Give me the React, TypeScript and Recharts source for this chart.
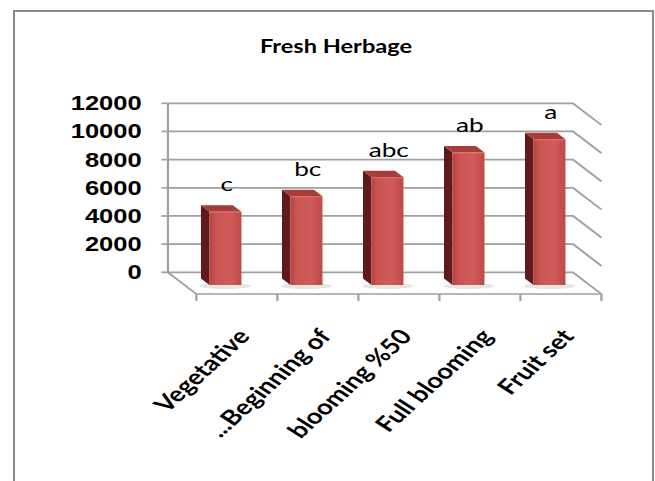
import { BarChart, Bar, XAxis, YAxis, CartesianGrid, LabelList } from 'recharts';

const categories = ['Vegetative', '...Beginning of', 'blooming %50', 'Full blooming', 'Fruit set'];
const freshHerbage = [5200, 6300, 7650, 9400, 10350];
const groupLetters = ['c', 'bc', 'abc', 'ab', 'a'];
const yTicks = [0, 2000, 4000, 6000, 8000, 10000, 12000];

const data = categories.map((name, i) => ({ name, value: freshHerbage[i], letter: groupLetters[i] }));

// the picture is stretched sideways, so the chart is drawn narrow and scaled
const STRETCH = 1.31;
const W = 500;
const H = 481;
const PLOT_LEFT = 128.2;
const PLOT_RIGHT = 437.4;
const PLOT_TOP = 103.3;
const PLOT_BOTTOM = 272.3;
const Y_W = 120;
const X_H = 200;
const BAND = (PLOT_RIGHT - PLOT_LEFT) / categories.length;
const DEPTH = 21.7; // floor depth
const FRONT = 12.7; // bar sits this far in front of the back wall
const BAR_DEPTH = 6.5;
const GRID = '#a0a0a0';

const GridLine = (p: any) => {
  const { x1, y1, x2 } = p;
  const floor = Math.abs(y1 - PLOT_BOTTOM) < 1;
  return (
    <g key={p.key}>
      <polyline
        points={`${x1},${y1} ${x2},${y1} ${x2 + DEPTH},${y1 + DEPTH}`}
        fill="none"
        stroke={GRID}
        strokeWidth={1.7}
      />
      {floor && (
        <polyline
          points={`${x1},${y1} ${x1 + DEPTH},${y1 + DEPTH} ${x2 + DEPTH},${y1 + DEPTH}`}
          fill="none"
          stroke={GRID}
          strokeWidth={1.7}
        />
      )}
    </g>
  );
};

const Bar3D = (props: any) => {
  const { x, y, width, height, index } = props;
  const fx = x + FRONT;
  const fy = y + FRONT;
  const fb = y + height + FRONT;
  const d = BAR_DEPTH;
  const id = `front-${index}`;
  return (
    <g>
      <defs>
        <linearGradient id={id} x1="0" y1="0" x2="1" y2="0">
          <stop offset="0%" stopColor="#b8413e" />
          <stop offset="20%" stopColor="#cb5552" />
          <stop offset="65%" stopColor="#d05b58" />
          <stop offset="100%" stopColor="#c04946" />
        </linearGradient>
      </defs>
      <ellipse cx={fx + width / 2} cy={fb + 1} rx={width * 0.8} ry={3} fill="#e6e6e6" />
      <polygon
        points={`${fx},${fy} ${fx - d},${fy - d} ${fx - d},${fb - d} ${fx},${fb}`}
        fill="#5e1b1a"
      />
      <polygon
        points={`${fx},${fy} ${fx - d},${fy - d} ${fx + width - d},${fy - d} ${fx + width},${fy}`}
        fill="#a63d3a"
      />
      <rect x={fx} y={fy} width={width} height={fb - fy} fill={`url(#${id})`} />
      <line x1={fx} y1={fy + 0.5} x2={fx + width} y2={fy + 0.5} stroke="#d9706d" strokeWidth={1} />
    </g>
  );
};

const LetterLabel = (props: any) => {
  const vb = props.viewBox || props;
  const { x, y, width } = vb;
  return (
    <text
      x={x + FRONT + width / 2 + 1}
      y={y + FRONT - 20.5}
      textAnchor="middle"
      fontFamily="Lato, 'Open Sans', sans-serif"
      fontSize={20}
      fill="#000"
    >
      {props.value}
    </text>
  );
};

const XTick = (props: any) => {
  const { x, y, payload, index } = props;
  const fx = x + DEPTH;
  const fy = y + DEPTH;
  return (
    <g>
      <line x1={fx - BAND / 2} y1={fy} x2={fx - BAND / 2} y2={fy + 7} stroke={GRID} strokeWidth={1.7} />
      {index === categories.length - 1 && (
        <line x1={fx + BAND / 2} y1={fy} x2={fx + BAND / 2} y2={fy + 7} stroke={GRID} strokeWidth={1.7} />
      )}
      <text
        transform={`translate(${fx + 11}, ${fy + 43}) rotate(-50)`}
        textAnchor="end"
        fontFamily="Lato, 'Open Sans', sans-serif"
        fontWeight="bold"
        fontSize={21}
        fill="#000"
      >
        {payload.value}
      </text>
    </g>
  );
};

export default function App() {
  return (
    <div style={{ position: 'absolute', left: 0, top: 0, width: 655, height: 481, overflow: 'hidden', background: '#fff' }}>
      <div
        style={{
          position: 'absolute',
          left: 13,
          top: 10,
          width: 637,
          height: 520,
          border: '2px solid #8a8a8a',
        }}
      />
      <div style={{ position: 'absolute', left: 0, top: 0, width: W, height: H, transform: `scaleX(${STRETCH})`, transformOrigin: '0 0' }}>
        <svg width={W} height={80} style={{ position: 'absolute', left: 0, top: 0 }}>
          <text x={256.5} y={53.5} textAnchor="middle" fontFamily="Lato, 'Open Sans', sans-serif" fontWeight="bold" fontSize={18} fill="#000">
            Fresh Herbage
          </text>
        </svg>
        <div style={{ position: 'absolute', left: 0, top: 0 }}>
          <BarChart
            width={W}
            height={H}
            data={data}
            margin={{ top: PLOT_TOP, right: W - PLOT_RIGHT, left: PLOT_LEFT - Y_W, bottom: H - PLOT_BOTTOM - X_H }}
          >
            <CartesianGrid horizontal={GridLine} vertical={false} />
            <XAxis
              dataKey="name"
              height={X_H}
              interval={0}
              axisLine={false}
              tickLine={false}
              tickSize={0}
              tickMargin={0}
              tick={<XTick />}
            />
            <YAxis
              width={Y_W}
              domain={[0, 12000]}
              ticks={yTicks}
              interval={0}
              axisLine={{ stroke: GRID, strokeWidth: 1.7 }}
              tickLine={{ stroke: GRID, strokeWidth: 1.7 }}
              tickSize={5}
              tickMargin={15}
              tick={{ fill: '#000', fontSize: 19.5, fontWeight: 'bold', fontFamily: "'Liberation Sans', Arial, sans-serif" }}
            />
            <Bar dataKey="value" barSize={24.4} shape={<Bar3D />} isAnimationActive={false}>
              <LabelList dataKey="letter" content={<LetterLabel />} />
            </Bar>
          </BarChart>
        </div>
      </div>
    </div>
  );
}
